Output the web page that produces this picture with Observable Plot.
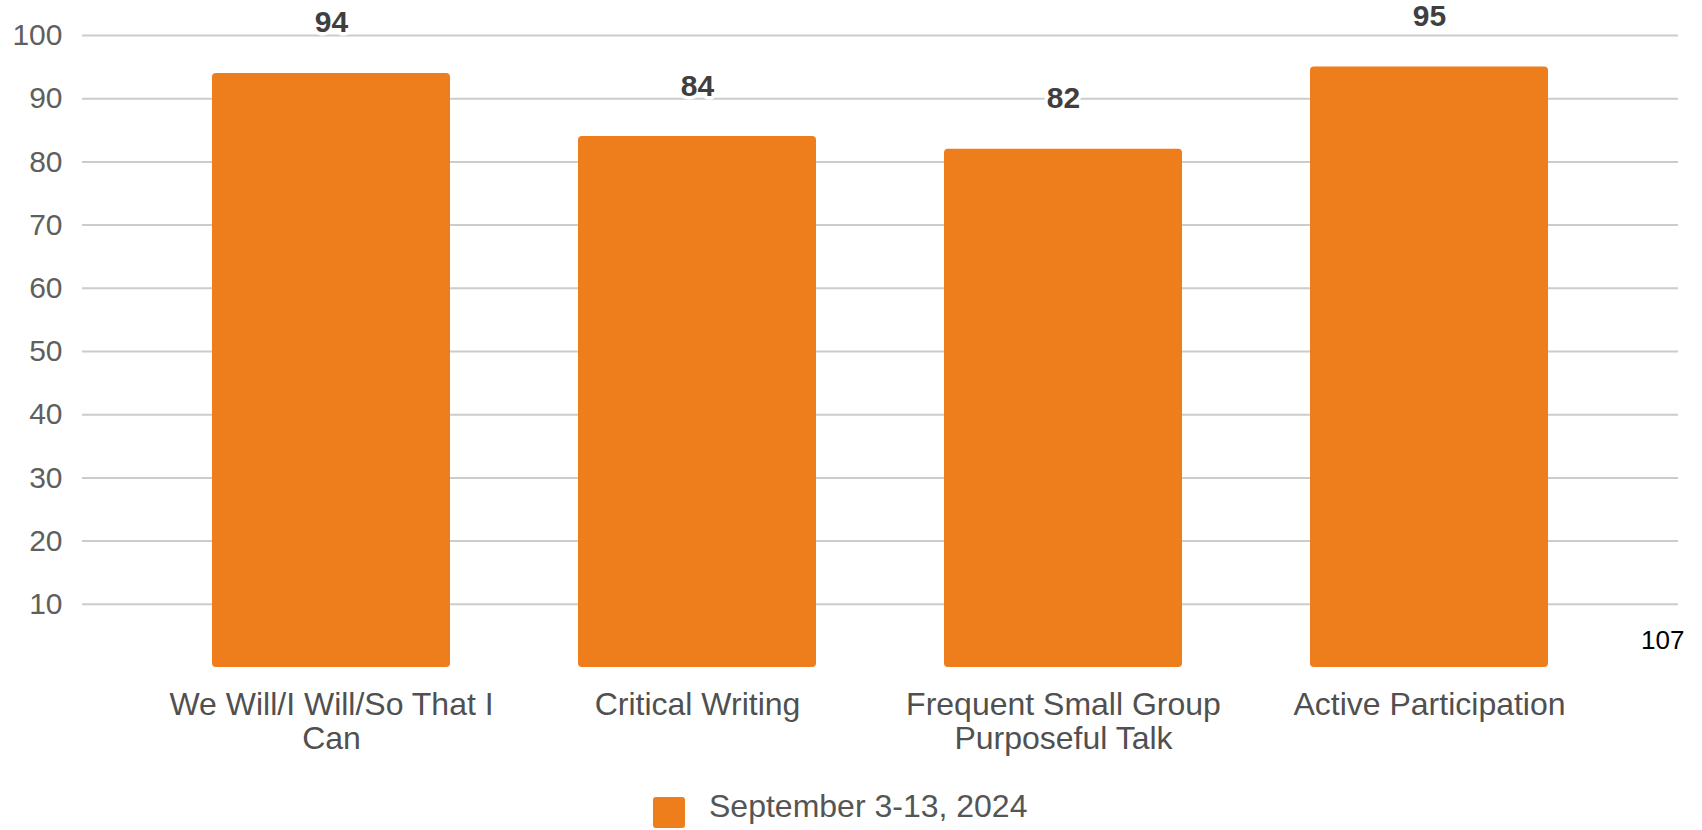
<!DOCTYPE html>
<html>
<head>
<meta charset="utf-8">
<script src="https://cdn.jsdelivr.net/npm/d3@7"></script>
<script src="https://cdn.jsdelivr.net/npm/@observablehq/plot@0.6"></script>
<style>
  html, body { margin: 0; padding: 0; background: #fff; }
  body { width: 1702px; height: 830px; position: relative; overflow: hidden; font-family: "Liberation Sans", Arial, sans-serif; }
  #chart { position: absolute; left: 0; top: 0; }
  .legend-swatch { position: absolute; left: 653px; top: 797px; width: 32px; height: 31px; border-radius: 3px; background: #EE7D1B; }
  .legend-text { position: absolute; left: 709px; top: 790px; font-size: 32px; line-height: 32px; color: #555555; white-space: nowrap; }
</style>
</head>
<body>
<div id="chart"></div>
<script>
const categories = ["We Will/I Will/So That I Can", "Critical Writing", "Frequent Small Group Purposeful Talk", "Active Participation"];
const tickLabels = ["We Will/I Will/So That I\nCan", "Critical Writing", "Frequent Small Group\nPurposeful Talk", "Active Participation"];
const values = [94, 84, 82, 95];
const yTicks = [10, 20, 30, 40, 50, 60, 70, 80, 90, 100];
const seriesName = "September 3-13, 2024";
const pageNumber = "107";

const data = categories.map((c, i) => ({category: c, value: values[i]}));
const orange = "#EE7D1B";

const chart = Plot.plot({
  width: 1702,
  height: 770,
  marginLeft: 82,
  marginRight: 24,
  marginTop: 35,
  marginBottom: 103,
  style: {fontFamily: "'Liberation Sans', Arial, sans-serif", background: "white", overflow: "visible"},
  x: {domain: categories, padding: 0.35, label: null},
  y: {domain: [0, 100], label: null},
  marks: [
    Plot.ruleY(yTicks, {stroke: "#cccccc", strokeWidth: 2}),
    Plot.barY(data, {x: "category", y: "value", fill: orange, rx: 4}),
    Plot.text(data, {
      x: "category", y: "value", text: d => String(d.value),
      dy: -41, lineAnchor: "bottom", fontWeight: "bold", fontSize: 30,
      fill: "#3f3f3f", stroke: "white", strokeWidth: 7
    }),
    Plot.axisY({ticks: yTicks, tickSize: 0, tickPadding: 20, fontSize: 30, color: "#5f5f5f", label: null}),
    Plot.axisX({
      tickSize: 0, tickPadding: 24, fontSize: 32, color: "#505050", label: null,
      lineHeight: 1.05,
      tickFormat: d => tickLabels[categories.indexOf(d)]
    }),
    Plot.text([pageNumber], {
      frameAnchor: "bottom-right", text: d => d, textAnchor: "end",
      dx: 6, dy: -19, lineAnchor: "bottom", fontSize: 26, fill: "#000"
    })
  ]
});
document.getElementById("chart").appendChild(chart);

const sw = document.createElement("div");
sw.className = "legend-swatch";
document.body.appendChild(sw);
const lt = document.createElement("div");
lt.className = "legend-text";
lt.textContent = seriesName;
document.body.appendChild(lt);
</script>
</body>
</html>
